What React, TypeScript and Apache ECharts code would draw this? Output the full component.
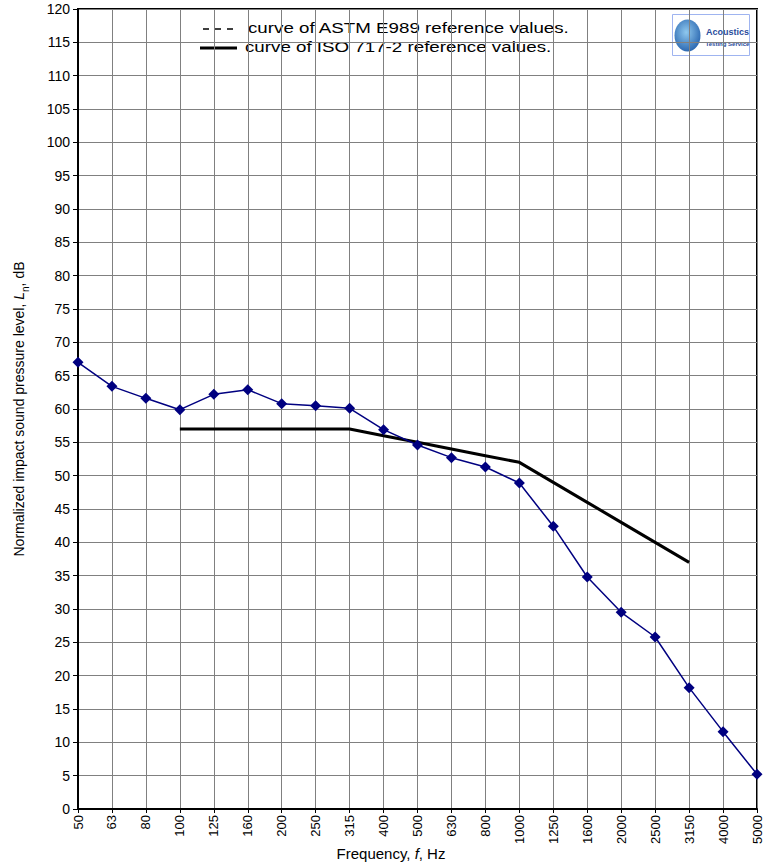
import React, { useEffect, useRef } from "react";
import * as echarts from "echarts";

const categories = ["50", "63", "80", "100", "125", "160", "200", "250", "315", "400", "500", "630", "800", "1000", "1250", "1600", "2000", "2500", "3150", "4000", "5000"];
const measured = [67.0, 63.4, 61.6, 59.9, 62.2, 62.9, 60.8, 60.5, 60.1, 56.9, 54.6, 52.7, 51.3, 48.9, 42.4, 34.8, 29.5, 25.8, 18.2, 11.6, 5.2];
const isoReference = [null, null, null, 57, 57, 57, 57, 57, 57, 56, 55, 54, 53, 52, 49, 46, 43, 40, 37, null, null];
const astmReference: (number | null)[] = [];
const legendLabels = ["curve of ASTM E989 reference values.", "curve of ISO 717-2 reference values."];

const FONT = "'Liberation Sans', Arial, sans-serif";

export default function App() {
  const ref = useRef<HTMLDivElement>(null);
  useEffect(() => {
    document.body.style.margin = "0";
    const chart = echarts.init(ref.current!, null, { renderer: "svg" });
    chart.setOption({
      animation: false,
      backgroundColor: "#fff",
      textStyle: { fontFamily: FONT },
      grid: {
        left: 78, right: 7, top: 9, bottom: 54,
        show: true, borderColor: "#000", borderWidth: 2, backgroundColor: "transparent",
        outerBoundsMode: "none", containLabel: false,
      },
      xAxis: {
        type: "category",
        data: categories,
        boundaryGap: false,
        axisLine: { lineStyle: { color: "#000", width: 2 } },
        axisTick: { show: true, length: 4, lineStyle: { color: "#000" } },
        axisLabel: { rotate: 90, fontFamily: FONT, fontSize: 13, color: "#000", margin: 6, interval: 0 },
        splitLine: { show: true, lineStyle: { color: "#808080", width: 1 } },
      },
      yAxis: {
        type: "value",
        min: 0,
        max: 120,
        interval: 5,
        name: "Normalized impact sound pressure level, {i|L}{s|n}, dB",
        nameLocation: "middle",
        nameGap: 52,
        nameRotate: 90,
        nameTextStyle: {
          fontFamily: FONT, fontSize: 14, color: "#000",
          rich: {
            i: { fontStyle: "italic", fontFamily: FONT, fontSize: 14, color: "#000" },
            s: { fontFamily: FONT, fontSize: 10, color: "#000", verticalAlign: "bottom", padding: [0, 0, -4, 0] },
          },
        },
        axisLine: { show: true, lineStyle: { color: "#000", width: 2 } },
        axisTick: { show: true, length: 5, lineStyle: { color: "#000" } },
        axisLabel: { fontFamily: FONT, fontSize: 14, color: "#000", margin: 8 },
        splitLine: { show: true, lineStyle: { color: "#808080", width: 1 } },
      },
      series: [
        {
          name: legendLabels[0],
          type: "line",
          data: astmReference,
          symbol: "none",
          lineStyle: { color: "#000", width: 1.5, type: [5, 5] },
        },
        {
          name: legendLabels[1],
          type: "line",
          data: isoReference,
          symbol: "none",
          connectNulls: false,
          lineStyle: { color: "#000", width: 3 },
          z: 3,
        },
        {
          name: "measured",
          type: "line",
          data: measured,
          symbol: "diamond",
          symbolSize: 11,
          lineStyle: { color: "#000080", width: 1.5 },
          itemStyle: { color: "#000080" },
          z: 4,
        },
      ],
      graphic: [
        {
          type: "text",
          x: 391,
          y: 853,
          z: 100,
          style: {
            text: "Frequency, {i|f}, Hz",
            fill: "#000",
            font: "15px " + FONT,
            align: "center",
            verticalAlign: "middle",
            rich: { i: { fontStyle: "italic", fontFamily: FONT, fontSize: 15, fill: "#000" } },
          },
        },
        {
          type: "group",
          left: 196,
          top: 15,
          z: 100,
          children: [
            { type: "rect", shape: { x: 0, y: 0, width: 388, height: 42 }, style: { fill: "#fff", stroke: null } },
            { type: "line", shape: { x1: 7, y1: 14, x2: 40, y2: 14 }, style: { stroke: "#000", lineWidth: 1.5, lineDash: [6, 6] } },
            { type: "text", x: 52, y: 13, scaleX: 1.25, style: { x: 0, y: 0, text: legendLabels[0], fill: "#000", font: "15px " + FONT, verticalAlign: "middle" } },
            { type: "line", shape: { x1: 4, y1: 33, x2: 41, y2: 33 }, style: { stroke: "#000", lineWidth: 3 } },
            { type: "text", x: 49, y: 32, scaleX: 1.25, style: { x: 0, y: 0, text: legendLabels[1], fill: "#000", font: "15px " + FONT, verticalAlign: "middle" } },
          ],
        },
        {
          type: "group",
          left: 672,
          top: 14,
          z: 100,
          children: [
            { type: "rect", shape: { x: 0, y: 0, width: 77, height: 41 }, style: { fill: "#fff", stroke: "#9fb4f0", lineWidth: 1 } },
            {
              type: "ellipse", shape: { cx: 15, cy: 21, rx: 13, ry: 16 },
              style: {
                fill: new echarts.graphic.RadialGradient(0.45, 0.4, 0.7, [
                  { offset: 0, color: "#8fc8ee" },
                  { offset: 1, color: "#1d5aa8" },
                ]),
              },
            },
            { type: "text", style: { x: 55, y: 17, text: "Acoustics", fill: "#2a4c9c", font: "bold 9px " + FONT, align: "center", verticalAlign: "middle" } },
            { type: "text", style: { x: 55, y: 29, text: "Testing Service", fill: "#2a4c9c", font: "bold 6px " + FONT, align: "center", verticalAlign: "middle" } },
          ],
        },
      ],
    });
    return () => chart.dispose();
  }, []);
  return <div ref={ref} style={{ width: 764, height: 863 }} />;
}
